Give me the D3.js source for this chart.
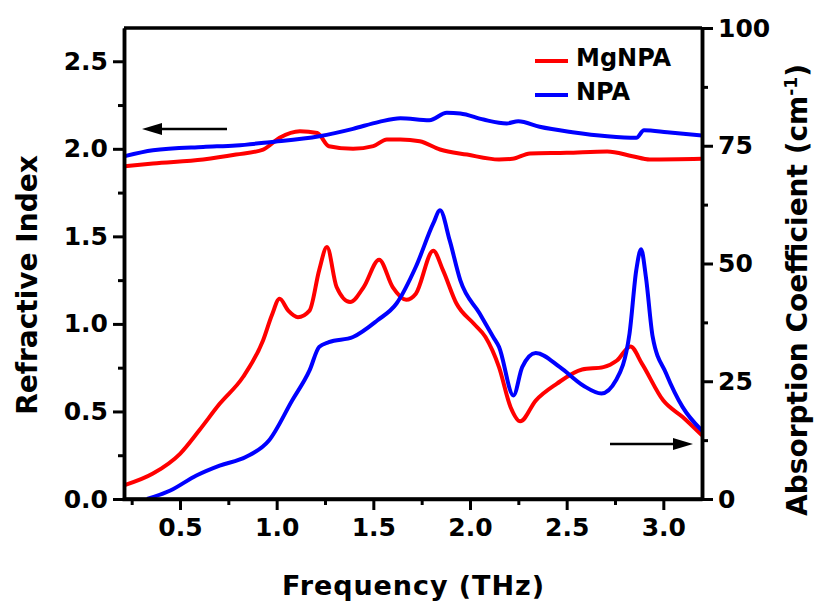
<!DOCTYPE html>
<html>
<head>
<meta charset="utf-8">
<script src="https://cdn.jsdelivr.net/npm/d3@7"></script>
<style>
  body { margin: 0; background: #fff; }
  text { font-family: "DejaVu Sans", Verdana, sans-serif; font-weight: bold; }
</style>
</head>
<body>
<svg id="my_svg"></svg>
<script>
const width = 815;
const height = 602;

// absorption coefficient (right axis), MgNPA
const freqMgAbs = [0.21, 0.36, 0.50, 0.60, 0.705, 0.826, 0.93, 0.975, 1.015, 1.06, 1.11, 1.17, 1.22, 1.26, 1.31, 1.38, 1.45, 1.53, 1.60, 1.67, 1.72, 1.81, 1.86, 1.93, 2.02, 2.08, 2.15, 2.21, 2.26, 2.34, 2.45, 2.58, 2.69, 2.76, 2.83, 2.89, 3.0, 3.10, 3.2];
const mgAbs = [2.9, 5.4, 9.6, 14.6, 20.2, 25.9, 33.7, 39, 42.5, 40, 38.6, 40, 48.6, 53.5, 45, 41.8, 45, 50.8, 45, 42.3, 43.6, 52.7, 48.6, 41.5, 37.2, 34.4, 28, 19.5, 16.5, 20.9, 24.5, 27.5, 28, 29.4, 32.4, 28.7, 20.9, 17.4, 13.5];

// absorption coefficient (right axis), NPA
const freqNpaAbs = [0.33, 0.45, 0.585, 0.705, 0.84, 0.96, 1.08, 1.17, 1.22, 1.27, 1.395, 1.52, 1.62, 1.72, 1.81, 1.845, 1.895, 1.95, 2.05, 2.12, 2.15, 2.225, 2.27, 2.34, 2.465, 2.585, 2.68, 2.755, 2.825, 2.86, 2.885, 2.91, 2.945, 3.015, 3.10, 3.2];
const npaAbs = [0, 1.8, 5, 7.1, 8.9, 12.4, 20.9, 27.3, 32.3, 33.3, 34.4, 37.9, 41.5, 49.3, 58.5, 61.3, 54.9, 46.4, 39.4, 34.4, 32.3, 22, 28, 31, 28, 24.1, 22.4, 25.2, 35.1, 48.6, 53, 47.1, 34.4, 26.6, 19.5, 14.5];

// refractive index (left axis)
const freqMgN = [0.215, 0.36, 0.62, 0.79, 0.93, 1.015, 1.12, 1.21, 1.27, 1.395, 1.50, 1.57, 1.64, 1.74, 1.845, 1.985, 2.15, 2.22, 2.31, 2.50, 2.71, 2.84, 2.93, 3.2];
const mgN = [1.90, 1.916, 1.939, 1.967, 1.996, 2.063, 2.10, 2.09, 2.015, 2.0, 2.015, 2.053, 2.053, 2.043, 1.996, 1.967, 1.939, 1.943, 1.973, 1.977, 1.985, 1.958, 1.939, 1.943];
const freqNpaN = [0.215, 0.36, 0.62, 0.79, 0.965, 1.22, 1.395, 1.53, 1.64, 1.79, 1.88, 1.95, 2.07, 2.19, 2.25, 2.36, 2.53, 2.71, 2.86, 2.90, 3.02, 3.2];
const npaN = [1.958, 1.992, 2.011, 2.019, 2.038, 2.072, 2.114, 2.154, 2.174, 2.163, 2.206, 2.202, 2.167, 2.145, 2.158, 2.126, 2.095, 2.072, 2.063, 2.106, 2.095, 2.076];

const xTicks = [0.5, 1.0, 1.5, 2.0, 2.5, 3.0];
const xMinor = [0.25, 0.75, 1.25, 1.75, 2.25, 2.75];
const nTicks = [0.0, 0.5, 1.0, 1.5, 2.0, 2.5];
const nMinor = [0.25, 0.75, 1.25, 1.75, 2.25];
const aTicks = [0, 25, 50, 75, 100];
const aMinor = [12.5, 37.5, 62.5, 87.5];

const legendNames = ["MgNPA", "NPA"];
const legendColors = ["#ff0000", "#0000ff"];

const pLeft = 124, pRight = 702, pTop = 28, pBottom = 499;

const svg = d3.select('#my_svg')
  .attr('width', width)
  .attr('height', height);

svg.append('rect').attr('width', width).attr('height', height).attr('fill', '#fff');

const x = d3.scaleLinear().domain([0.2, 3.2]).range([122, pRight]);
const yN = d3.scaleLinear().domain([0, 2.69]).range([pBottom, pTop]);
const yA = d3.scaleLinear().domain([0, 100]).range([pBottom, pTop]);

svg.append('defs').append('clipPath').attr('id', 'clip')
  .append('rect').attr('x', pLeft).attr('y', pTop).attr('width', pRight - pLeft).attr('height', pBottom - pTop);

const plot = svg.append('g').attr('clip-path', 'url(#clip)');

function drawLine(xs, ys, yScale, color) {
  const pts = xs.map((d, i) => [d, ys[i]]);
  const line = d3.line()
    .x(d => x(d[0])).y(d => yScale(d[1]))
    .curve(d3.curveMonotoneX);
  plot.append('path')
    .attr('d', line(pts))
    .attr('fill', 'none')
    .attr('stroke', color)
    .attr('stroke-width', 4)
    .attr('stroke-linejoin', 'round');
}

drawLine(freqMgN, mgN, yN, '#ff0000');
drawLine(freqNpaN, npaN, yN, '#0000ff');
drawLine(freqMgAbs, mgAbs, yA, '#ff0000');
drawLine(freqNpaAbs, npaAbs, yA, '#0000ff');

// 轴
function styleAxis(g) {
  g.selectAll('path').attr('stroke-width', 3.5);
  g.selectAll('line').attr('stroke-width', 3);
  g.selectAll('text').attr('font-size', 25).attr('fill', '#000');
}

svg.append('g').attr('transform', `translate(0,${pBottom})`)
  .call(d3.axisBottom(x).tickValues(xMinor).tickSize(6).tickFormat('').tickSizeOuter(0))
  .call(styleAxis);
svg.append('g').attr('transform', `translate(0,${pBottom})`)
  .call(d3.axisBottom(x).tickValues(xTicks).tickSize(11).tickPadding(8).tickFormat(d3.format('.1f')).tickSizeOuter(0))
  .call(styleAxis)
  .call(g => g.select('.domain').attr('d', `M${pLeft},0H${pRight}`));

svg.append('g').attr('transform', `translate(${pLeft},0)`)
  .call(d3.axisLeft(yN).tickValues(nMinor).tickSize(6).tickFormat('').tickSizeOuter(0))
  .call(styleAxis);
svg.append('g').attr('transform', `translate(${pLeft},0)`)
  .call(d3.axisLeft(yN).tickValues(nTicks).tickSize(11).tickPadding(5).tickFormat(d3.format('.1f')).tickSizeOuter(0))
  .call(styleAxis);

svg.append('g').attr('transform', `translate(${pRight},0)`)
  .call(d3.axisRight(yA).tickValues(aMinor).tickSize(6).tickFormat('').tickSizeOuter(0))
  .call(styleAxis);
svg.append('g').attr('transform', `translate(${pRight},0)`)
  .call(d3.axisRight(yA).tickValues(aTicks).tickSize(11).tickPadding(5).tickSizeOuter(0))
  .call(styleAxis);

// 上边框
svg.append('line')
  .attr('x1', pLeft).attr('x2', pRight)
  .attr('y1', pTop).attr('y2', pTop)
  .attr('stroke', '#000').attr('stroke-width', 3.5);

// 轴标题
svg.append('text')
  .attr('transform', `translate(37,285) rotate(-90)`)
  .attr('text-anchor', 'middle')
  .attr('font-size', 28)
  .text('Refractive Index');

svg.append('text')
  .attr('x', 413).attr('y', 595)
  .attr('text-anchor', 'middle')
  .attr('font-size', 27)
  .attr('textLength', 262)
  .attr('lengthAdjust', 'spacing')
  .text('Frequency (THz)');

const rt = svg.append('text')
  .attr('transform', `translate(807,290) rotate(-90)`)
  .attr('text-anchor', 'middle')
  .attr('font-size', 28);
rt.append('tspan').text('Absorption Coefficient (cm');
rt.append('tspan').attr('baseline-shift', 'super').attr('font-size', 17).text('-1');
rt.append('tspan').text(')');

// 图例
const legend = svg.append('g');
legendNames.forEach((name, i) => {
  const ly = 61 + i * 34;
  legend.append('line')
    .attr('x1', 535).attr('x2', 568)
    .attr('y1', ly).attr('y2', ly)
    .attr('stroke', legendColors[i]).attr('stroke-width', 4);
  legend.append('text')
    .attr('x', 576).attr('y', ly + 5)
    .attr('font-size', 24)
    .text(name);
});

// 箭头
function arrow(x1, x2, y) {
  const dir = x2 > x1 ? 1 : -1;
  svg.append('line')
    .attr('x1', x1).attr('x2', x2 - dir * 14)
    .attr('y1', y).attr('y2', y)
    .attr('stroke', '#000').attr('stroke-width', 2.5);
  svg.append('path')
    .attr('d', `M${x2},${y}L${x2 - dir * 20},${y - 6}L${x2 - dir * 20},${y + 6}Z`)
    .attr('fill', '#000');
}
arrow(227, 142, 129);
arrow(610, 693, 444);
</script>
</body>
</html>
